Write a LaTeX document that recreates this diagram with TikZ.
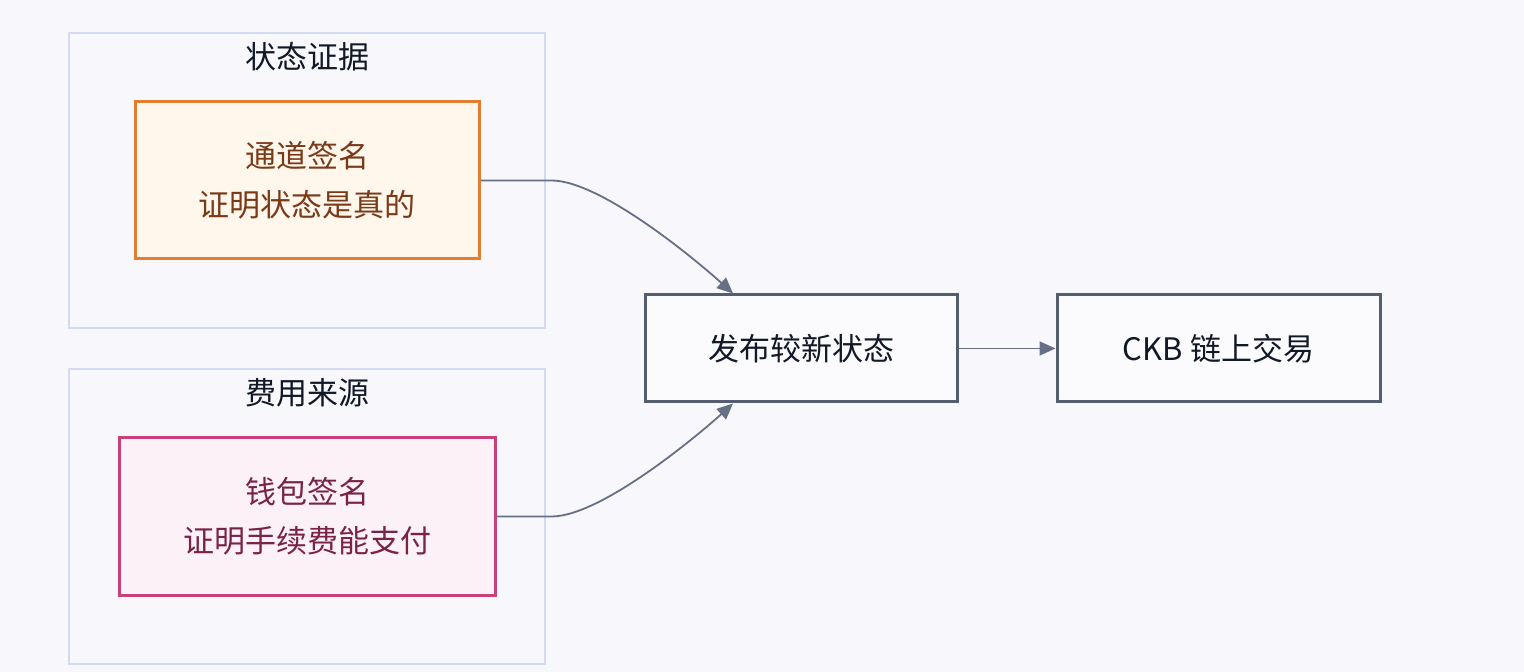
\documentclass[tikz,border=0pt]{standalone}
\usepackage{fontspec}
\setmainfont{Noto Sans CJK SC}
\usetikzlibrary{arrows.meta}

\definecolor{bgpage}{HTML}{F8F8FC}
\definecolor{grpline}{HTML}{D3DBF0}
\definecolor{orangeline}{HTML}{E27D32}
\definecolor{orangefill}{HTML}{FFF6EC}
\definecolor{orangetext}{HTML}{7A3A18}
\definecolor{pinkline}{HTML}{C8417A}
\definecolor{pinkfill}{HTML}{FCF1F6}
\definecolor{pinktext}{HTML}{7A2348}
\definecolor{slateline}{HTML}{545E70}
\definecolor{arrowcol}{HTML}{667085}
\definecolor{darktext}{HTML}{111827}

\tikzset{
  grp/.style={draw=grpline, line width=1pt, fill=bgpage},
  grptitle/.style={text=darktext, font=\fontsize{15.5}{20}\selectfont},
  proofbox/.style={rectangle, line width=1.5pt, align=center, inner sep=0pt,
    minimum height=78.5pt, font=\fontsize{15.5}{24.5}\selectfont},
  stepbox/.style={rectangle, draw=slateline, fill=bgpage!60!white, line width=1.5pt,
    inner sep=0pt, minimum height=53.5pt, text=darktext,
    font=\fontsize{15.5}{20}\selectfont},
  link/.style={draw=arrowcol, line width=0.9pt, -{Triangle[length=8pt, width=7pt]}}
}

\begin{document}
\begin{tikzpicture}[x=0.5pt, y=-0.5pt]
  \fill[bgpage] (0,0) rectangle (1524,672);
  \useasboundingbox (0,0) rectangle (1524,672);

  % groups
  \draw[grp] (69,33) rectangle (545,328);
  \node[grptitle] (evtitle) at (307,57) {状态证据};
  \draw[grp] (69,369) rectangle (545,664);
  \node[grptitle] (feetitle) at (307,393) {费用来源};

  % boxes
  \node[proofbox, draw=orangeline, fill=orangefill, text=orangetext,
    minimum width=172pt] (chansig) at (307,180.5) {通道签名\\证明状态是真的};
  \node[proofbox, draw=pinkline, fill=pinkfill, text=pinktext,
    minimum width=188pt] (walletsig) at (307,516.5) {钱包签名\\证明手续费能支付};
  \node[stepbox, minimum width=156pt] (publish) at (801,348.5) {发布较新状态};
  \node[stepbox, minimum width=161.5pt] (ckbtx) at (1218.5,348.5) {CKB 链上交易};

  % arrows
  \draw[link] (chansig.east) -- ++(71,0) .. controls ++(50,0) and ++(-33,-30) ..
    ([xshift=-34pt]publish.north);
  \draw[link] (walletsig.east) -- ++(55,0) .. controls ++(50,0) and ++(-33,30) ..
    ([xshift=-34pt]publish.south);
  \draw[link] (publish) -- (ckbtx);
\end{tikzpicture}
\end{document}
